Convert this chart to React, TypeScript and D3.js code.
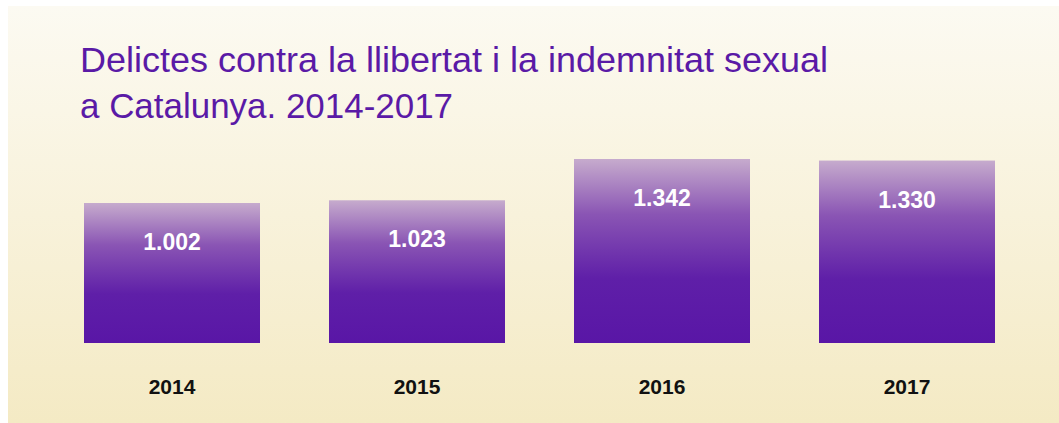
import React from "react";
import * as d3 from "d3";

const years = ["2014", "2015", "2016", "2017"];
const values = [1002, 1023, 1342, 1330];
const valueLabels = ["1.002", "1.023", "1.342", "1.330"];
const titleLines = ["Delictes contra la llibertat i la indemnitat sexual", "a Catalunya. 2014-2017"];

const W = 1059;
const H = 423;

export default function App() {
  const band = d3.scaleBand<string>().domain(years).range([49.5, 1029.5]).paddingInner(69 / 245).paddingOuter(34.5 / 245);
  const y = d3.scaleLinear().domain([-80, 1342]).range([343, 159]);

  return (
    <svg width={W} height={H} style={{ position: "absolute", left: 0, top: 0 }}>
      <defs>
        <linearGradient id="bg" x1="0" y1="0" x2="0" y2="1">
          <stop offset="0%" stopColor="#fcfaf2" />
          <stop offset="100%" stopColor="#f4eac4" />
        </linearGradient>
        <linearGradient id="barGrad" gradientUnits="objectBoundingBox" x1="0" y1="0" x2="0" y2="1">
          <stop offset="0%" stopColor="#c6abcd" />
          <stop offset="30%" stopColor="#8a55b4" />
          <stop offset="65%" stopColor="#5f1fa8" />
          <stop offset="100%" stopColor="#5916a6" />
        </linearGradient>
      </defs>
      <rect x={8} y={6} width={W - 8} height={H - 6} fill="url(#bg)" />
      <text x={80} y={72} fill="#5a1aa6" fontFamily="'Liberation Sans Narrow', 'Liberation Sans', Arial, sans-serif" fontSize={35} textLength={748} lengthAdjust="spacingAndGlyphs">
        {titleLines[0]}
      </text>
      <text x={80} y={118} fill="#5a1aa6" fontFamily="'Liberation Sans Narrow', 'Liberation Sans', Arial, sans-serif" fontSize={35} textLength={373} lengthAdjust="spacingAndGlyphs">
        {titleLines[1]}
      </text>
      {years.map((yr, i) => {
        const bx = band(yr)!;
        const bw = band.bandwidth();
        const top = y(values[i]);
        return (
          <g key={yr}>
            <rect x={bx} y={top} width={bw} height={y(-80) - top} fill="url(#barGrad)" />
            <text x={bx + bw / 2} y={top + 47} textAnchor="middle" fill="#ffffff" fontFamily="'Liberation Sans', Arial, Helvetica, sans-serif" fontWeight="bold" fontSize={23}>
              {valueLabels[i]}
            </text>
            <text x={bx + bw / 2} y={394} textAnchor="middle" fill="#111111" fontFamily="'Liberation Sans', Arial, Helvetica, sans-serif" fontWeight="bold" fontSize={21}>
              {yr}
            </text>
          </g>
        );
      })}
    </svg>
  );
}
